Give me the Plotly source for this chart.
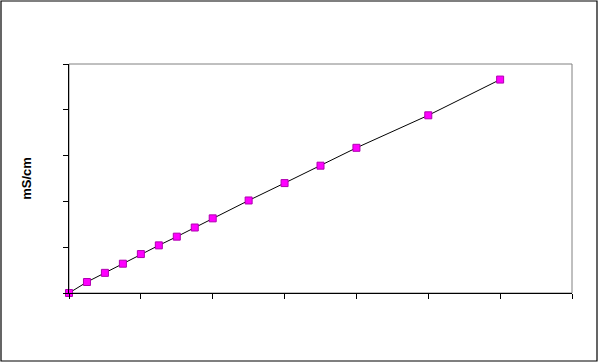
import plotly.graph_objects as go

x_vals = [0, 0.25, 0.5, 0.75, 1.0, 1.25, 1.5, 1.75, 2.0, 2.5, 3.0, 3.5, 4.0, 5.0, 6.0]
y_vals = [0.0, 0.24, 0.44, 0.64, 0.85, 1.04, 1.23, 1.43, 1.63, 2.02, 2.40, 2.78, 3.17, 3.88, 4.66]
y_title = "mS/cm"

fig = go.Figure()
fig.add_trace(go.Scatter(
    x=x_vals, y=y_vals, mode="lines+markers",
    line=dict(color="black", width=1),
    marker=dict(symbol="square", size=7, color="#FF00FF",
                line=dict(color="#B000B0", width=1)),
    cliponaxis=False, showlegend=False,
))

W, H = 598, 362
L, R, T, B = 69, 26, 64, 69
pw, ph = W - L - R, H - T - B

def px(xp):
    return (xp - L) / pw

def py(yp):
    return (H - B - yp) / ph

fig.update_layout(
    width=W, height=H,
    margin=dict(l=L, r=R, t=T, b=B),
    paper_bgcolor="white", plot_bgcolor="white",
    font=dict(family="Liberation Sans, Arial, sans-serif", size=12, color="black"),
    xaxis=dict(range=[0, 7], dtick=1, tick0=0, showgrid=False, zeroline=False,
               showline=True, linecolor="black", linewidth=1,
               ticks="outside", ticklen=5, tickcolor="black",
               showticklabels=False),
    yaxis=dict(range=[0, 5], dtick=1, tick0=0, showgrid=False, zeroline=False,
               showline=True, linecolor="black", linewidth=1,
               ticks="outside", ticklen=5, tickcolor="black",
               showticklabels=False,
               title=dict(text="<b>" + y_title + "</b>", standoff=28,
                          font=dict(size=13))),
    shapes=[
        dict(type="rect", xref="paper", yref="paper", x0=0, y0=0, x1=1, y1=1,
             line=dict(color="#808080", width=1), layer="below"),
        dict(type="rect", xref="paper", yref="paper",
             x0=px(1), x1=px(597), y0=py(361), y1=py(1),
             line=dict(color="black", width=1.2), layer="below"),
    ],
)

fig.write_html("out.html", config={"displayModeBar": False},
               post_script="document.body.style.margin='0';")
